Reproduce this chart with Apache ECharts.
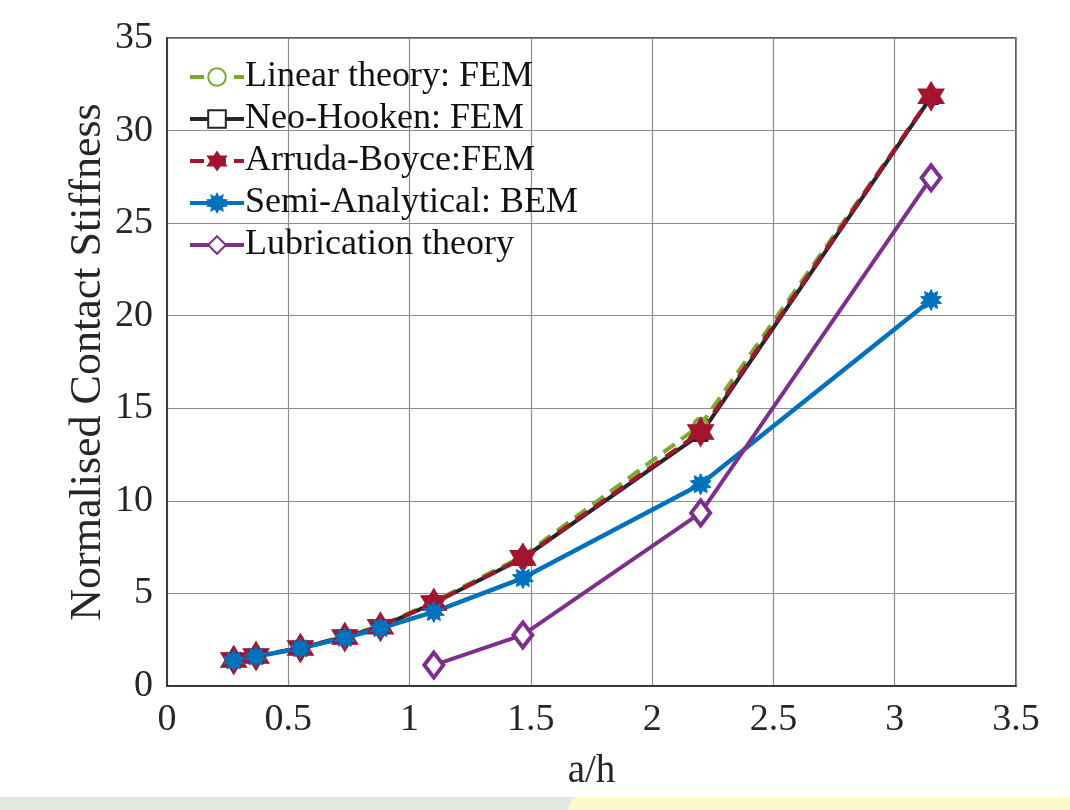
<!DOCTYPE html>
<html>
<head>
<meta charset="utf-8">
<title>Normalised Contact Stiffness vs a/h</title>
<script src="https://cdn.jsdelivr.net/npm/echarts@6/dist/echarts.min.js"></script>
<style>
  html, body { margin: 0; padding: 0; background: #ffffff; }
  #chart { width: 1070px; height: 810px; }
</style>
</head>
<body>
<div id="chart"></div>
<script>
// Aspect ratio a/h sampled by the FEM and BEM runs
const xFEM = [0.275, 0.367, 0.55, 0.733, 0.88, 1.1, 1.467, 2.2, 3.15];
// Aspect ratios covered by lubrication theory
const xLub = [1.1, 1.467, 2.2, 3.15];

// Normalised contact stiffness per model
const linearFEM  = [1.42, 1.63, 2.07, 2.68, 3.25, 4.55, 7.02, 14.1, 31.8];
const neoHookFEM = [1.40, 1.60, 2.05, 2.65, 3.20, 4.48, 6.90, 13.6, 31.8];
const arrudaFEM  = [1.40, 1.62, 2.05, 2.65, 3.20, 4.48, 6.92, 13.72, 31.85];
const bemSemi    = [1.38, 1.60, 2.03, 2.60, 3.12, 4.00, 5.83, 10.9, 20.85];
const lubTheory  = [1.13, 2.76, 9.35, 27.45];

const seriesNames = [
  'Linear theory: FEM',
  'Neo-Hooken: FEM',
  'Arruda-Boyce:FEM',
  'Semi-Analytical: BEM',
  'Lubrication theory'
];
const xTitle = 'a/h';
const yTitle = 'Normalised Contact Stiffness';

const FONT = 'Liberation Serif';

// Star-shaped marker outline with n points
function starPath(n, inner) {
  const pts = [];
  for (let i = 0; i < 2 * n; i++) {
    const r = i % 2 === 0 ? 1 : inner;
    const a = -Math.PI / 2 + i * Math.PI / n;
    pts.push((r * Math.cos(a)).toFixed(4) + ' ' + (r * Math.sin(a)).toFixed(4));
  }
  return 'path://M' + pts.join(' L') + ' Z';
}
const hexagram = starPath(6, 0.577);
const asterisk = starPath(10, 0.62);

const pairs = (xs, ys) => xs.map((x, i) => [x, ys[i]]);

const chart = echarts.init(document.getElementById('chart'), null, { renderer: 'canvas' });

chart.setOption({
  backgroundColor: '#ffffff',
  animation: false,
  grid: {
    left: 167, right: 54, top: 38, bottom: 124,
    show: true, borderColor: '#262626', borderWidth: 1.5
  },
  legend: {
    left: 183, top: 51, orient: 'vertical',
    itemWidth: 54, itemHeight: 22, itemGap: 0,
    data: seriesNames,
    lineStyle: { width: 4 },
    textStyle: { fontFamily: FONT, fontSize: 36, color: '#111', lineHeight: 42, padding: [0, 0, 0, -4] }
  },
  xAxis: {
    type: 'value', min: 0, max: 3.5, interval: 0.5,
    name: xTitle, nameLocation: 'middle', nameGap: 66,
    nameTextStyle: { fontFamily: FONT, fontSize: 39, color: '#262626' },
    axisLine: { show: true, onZero: false, lineStyle: { color: '#262626', width: 1.5 } },
    axisTick: { show: false },
    axisLabel: { fontFamily: FONT, fontSize: 38, color: '#262626', margin: 15 },
    splitLine: { show: true, lineStyle: { color: '#8c8c8c', width: 1.2 } }
  },
  yAxis: {
    type: 'value', min: 0, max: 35, interval: 5,
    axisLine: { show: true, lineStyle: { color: '#262626', width: 1.5 } },
    axisTick: { show: false },
    axisLabel: { fontFamily: FONT, fontSize: 38, color: '#262626', margin: 14 },
    splitLine: { show: true, lineStyle: { color: '#8c8c8c', width: 1.2 } }
  },
  series: [
    {
      name: seriesNames[0], type: 'line', data: pairs(xFEM, linearFEM),
      lineStyle: { color: '#77AC30', width: 4, type: [14, 8] },
      symbol: 'circle', symbolSize: 13,
      itemStyle: { color: '#ffffff', borderColor: '#77AC30', borderWidth: 3.5 }
    },
    {
      name: seriesNames[1], type: 'line', data: pairs(xFEM, neoHookFEM),
      lineStyle: { color: '#262626', width: 4 },
      symbol: 'rect', symbolSize: 12,
      itemStyle: { color: '#ffffff', borderColor: '#262626', borderWidth: 3.5 }
    },
    {
      name: seriesNames[2], type: 'line', data: pairs(xFEM, arrudaFEM),
      lineStyle: { color: '#A2142F', width: 4, type: [14, 8] },
      symbol: hexagram, symbolSize: [26, 29],
      itemStyle: { color: '#A2142F', borderColor: '#A2142F', borderWidth: 1 }
    },
    {
      name: seriesNames[3], type: 'line', data: pairs(xFEM, bemSemi),
      lineStyle: { color: '#0072BD', width: 4.5 },
      symbol: asterisk, symbolSize: 21,
      itemStyle: { color: '#0072BD', borderColor: '#0072BD', borderWidth: 1 }
    },
    {
      name: seriesNames[4], type: 'line', data: pairs(xLub, lubTheory),
      lineStyle: { color: '#7E2F8E', width: 4 },
      symbol: 'diamond', symbolSize: [19, 25],
      itemStyle: { color: '#ffffff', borderColor: '#7E2F8E', borderWidth: 4 }
    }
  ],
  graphic: [
    {
      // vertical y-axis title
      type: 'text', silent: true,
      x: 88, y: 362, rotation: Math.PI / 2,
      style: {
        text: yTitle, fontFamily: FONT, fontSize: 44, fill: '#262626',
        align: 'center', verticalAlign: 'middle'
      }
    },
    {
      type: 'polygon', silent: true, z: 100,
      shape: { points: [[0, 797], [573, 797], [568, 810], [0, 810]] },
      style: { fill: '#e3e9de' }
    },
    {
      type: 'polygon', silent: true, z: 100,
      shape: { points: [[573, 797], [1070, 797], [1070, 810], [568, 810]] },
      style: { fill: '#fdf8cc' }
    }
  ]
});
</script>
</body>
</html>
